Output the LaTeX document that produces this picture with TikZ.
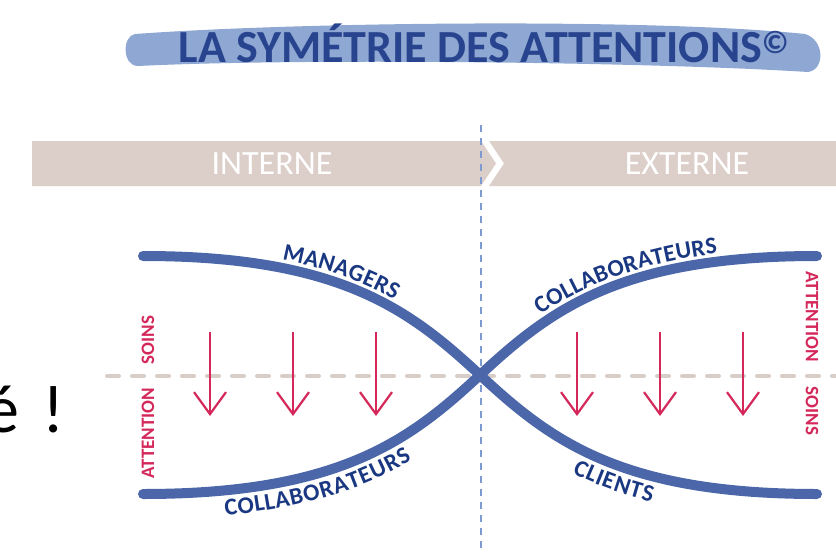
\documentclass[tikz,border=0pt]{standalone}
\usepackage{fontspec}
\setmainfont{Carlito}
\usetikzlibrary{arrows.meta,decorations.text}
\definecolor{brushblue}{RGB}{143,167,211}
\definecolor{titleblue}{RGB}{40,68,142}
\definecolor{bandbeige}{RGB}{220,206,201}
\definecolor{curveblue}{RGB}{75,103,170}
\definecolor{labelnavy}{RGB}{26,56,130}
\definecolor{carered}{RGB}{212,40,90}
\definecolor{splitblue}{RGB}{125,155,208}
\definecolor{levelgrey}{RGB}{216,205,199}
\newcommand{\curvefont}{\color{labelnavy}\bfseries\fontsize{24}{24}\selectfont}
\begin{document}
\begin{tikzpicture}[x=1pt,y=-1pt,
            band/.style={fill=bandbeige},
            bandtext/.style={text=white, font=\fontsize{34}{34}\selectfont},
            curve/.style={draw=curveblue, line width=10pt, line cap=round},
            sidelabel/.style={text=carered, font=\bfseries\fontsize{19}{19}\selectfont},
            care/.style={draw=carered, line width=2.2pt, -{Straight Barb[length=22pt,width=32pt,line width=2.2pt]}},
        ]
            \useasboundingbox (0,0) rectangle (836,552);
            \fill[brushblue] (135,34) .. controls (300,22) and (650,18) .. (805,34) .. controls (825,40) and (825,70) .. (808,72)
                .. controls (650,62) and (300,58) .. (138,66) .. controls (122,66) and (122,36) .. (135,34);
            \node[text=titleblue, font=\bfseries\fontsize{46}{46}\selectfont](title) at (484,43) {LA SYMÉTRIE DES ATTENTIONS\textsuperscript{©}};
            \fill[band] (32,141) -- (481,141) -- (496,163.5) -- (481,186) -- (32,186) -- cycle;
            \fill[band] (489,141) -- (836,141) -- (836,186) -- (489,186) -- (504,163.5) -- cycle;
            \node[bandtext](interne) at (272,163.5) {INTERNE};
            \node[bandtext](externe) at (687,163.5) {EXTERNE};
            \draw[splitblue, line width=1.8pt, dash pattern=on 7pt off 6pt] (481,125) -- (481,552);
            \draw[levelgrey, line width=4pt, line cap=round, dash pattern=on 12pt off 13pt] (107,376) -- (836,376);
            \draw[curve] (143,256) .. controls (340,256) and (410,310) .. (480,375) .. controls (550,440) and (620,494) .. (817,494);
            \draw[curve] (143,494) .. controls (340,494) and (410,440) .. (480,375) .. controls (550,310) and (620,256) .. (817,256);
            \path[decorate, decoration={text along path, raise=8pt, text align={left indent=138pt},
                text={|\curvefont|MANAGERS}}] (143,256) .. controls (340,256) and (410,310) .. (480,375);
            \path[decorate, decoration={text along path, raise=8pt, text align={left indent=84pt},
                text={|\curvefont|COLLABORATEURS}}] (480,375) .. controls (550,310) and (620,256) .. (817,256);
            \path[decorate, decoration={text along path, raise=-25pt, text align={left indent=80pt},
                text={|\curvefont|COLLABORATEURS}}] (143,494) .. controls (340,494) and (410,440) .. (480,375);
            \path[decorate, decoration={text along path, raise=-25pt, text align={left indent=128pt},
                text={|\curvefont|CLIENTS}}] (480,375) .. controls (550,440) and (620,494) .. (817,494);
            \foreach \x in {210,293,376,577,660,743}
                \draw[care] (\x,332) -- (\x,416);
            \node[sidelabel, rotate=90](soinsleft) at (148,340) {SOINS};
            \node[sidelabel, rotate=90](attentionleft) at (148,433) {ATTENTION};
            \node[sidelabel, rotate=-90](attentionright) at (812,317) {ATTENTION};
            \node[sidelabel, rotate=-90](soinsright) at (812,411) {SOINS};
            \node[anchor=base west, font=\fontsize{68}{68}\selectfont](exclaim) at (-18,432) {é\hspace{23pt}!};
        \end{tikzpicture}
\end{document}
